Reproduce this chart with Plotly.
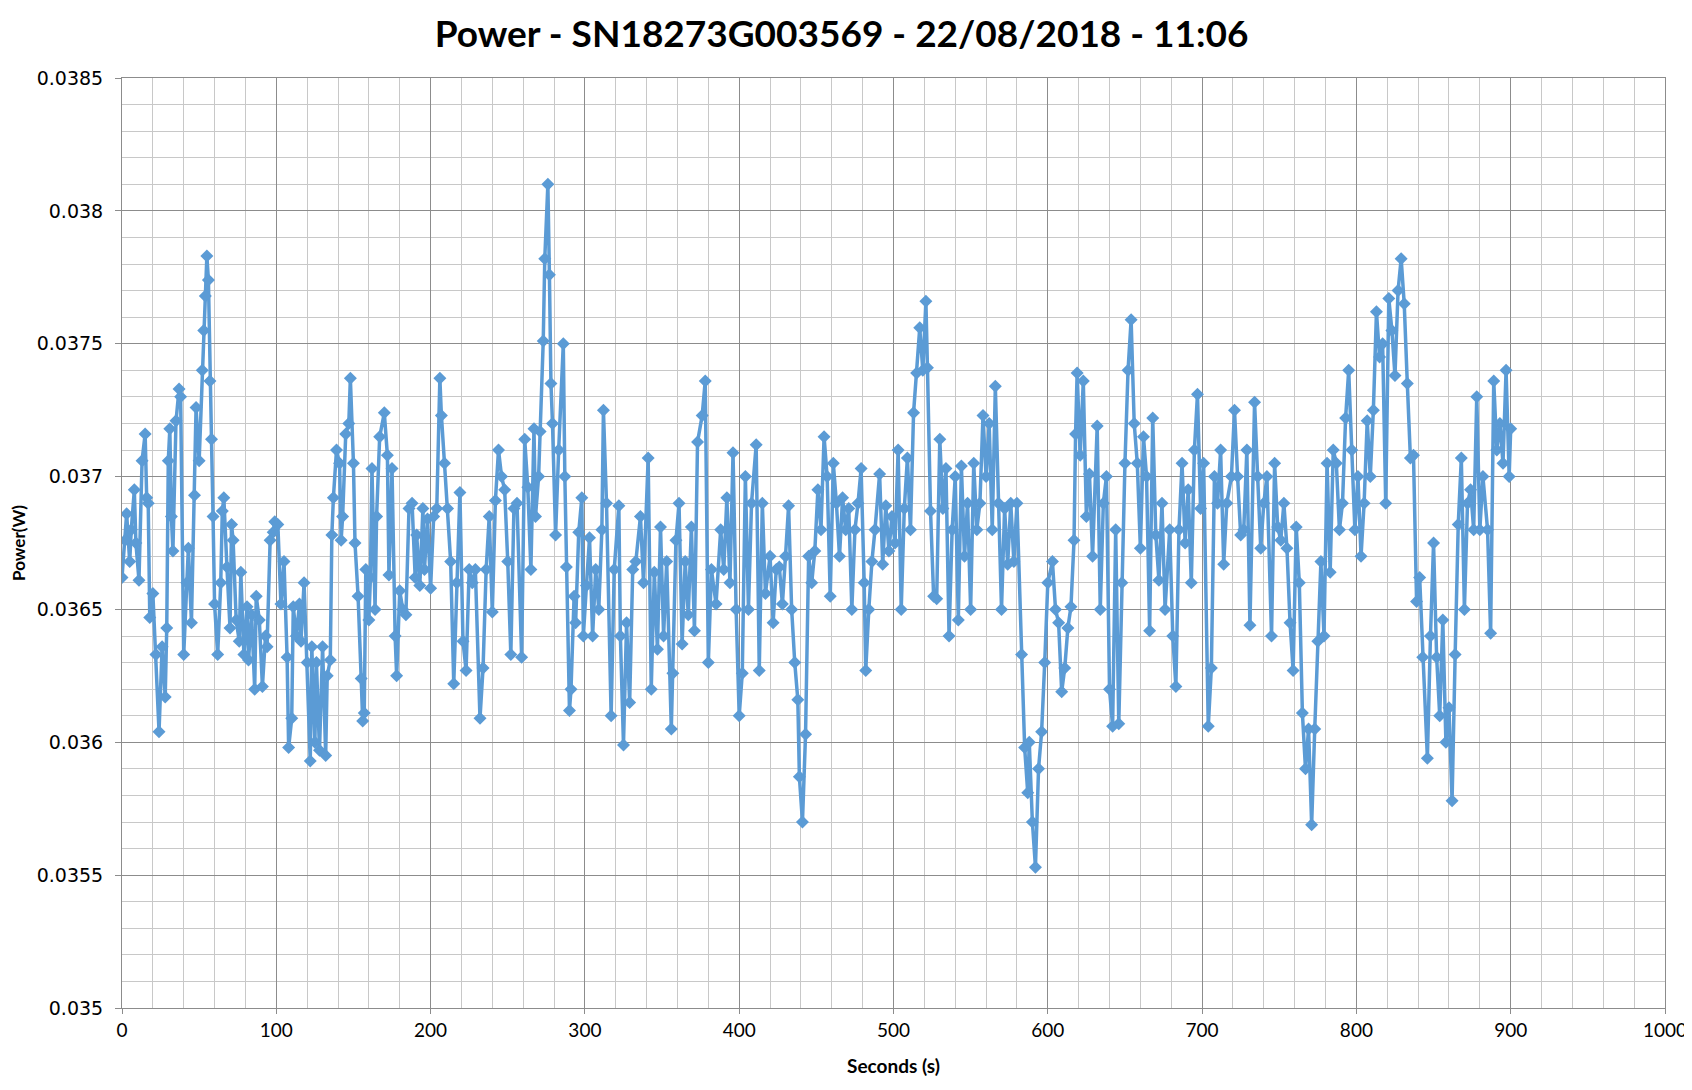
import plotly.graph_objects as go

title_text = "Power - SN18273G003569 - 22/08/2018 - 11:06"
x_title = "Seconds (s)"
y_title = "Power(W)"

seconds = [
    0, 2, 3, 5, 6, 8, 9, 11, 13, 15,
    16, 17, 18, 20, 22, 24, 26, 28, 29, 30,
    31, 32, 33, 35, 37, 38, 40, 42, 43, 45,
    47, 48, 50, 52, 53, 54, 55, 56, 57, 58,
    59, 60, 62, 64, 65, 66, 68, 70, 71, 72,
    74, 76, 77, 79, 81, 82, 84, 86, 87, 89,
    91, 93, 94, 96, 98, 99,
    101, 103, 105, 107, 108, 110, 111, 113, 115, 116,
    118, 120, 122, 123, 125, 126, 128, 130, 132, 133,
    135, 136, 137, 139, 141, 142, 143, 145, 147, 148,
    150, 151, 153, 155, 156, 157, 158, 160, 161, 162,
    164, 165, 167, 170, 172, 173, 175, 177, 178, 180,
    182, 184, 186, 188, 190, 191, 193, 195, 196, 198,
    200, 202, 204, 206, 207, 209, 211, 213, 215, 217,
    219, 221, 223, 225, 227, 229, 232, 234, 236, 238,
    240, 242, 244, 246, 248, 250, 252, 254, 256, 259,
    261, 263, 265, 267, 268, 270, 271, 273, 274, 276,
    277, 278, 279, 281, 283, 286, 287, 288, 290, 291,
    293, 294, 296, 298, 299,
    301, 303, 305, 307, 309, 311, 312, 314, 317, 319,
    322, 323, 325, 327, 329, 331, 333, 336, 338, 341,
    343, 345, 347, 349, 351, 353, 356, 357, 359, 361,
    363, 365, 367, 369, 371, 373, 376, 378, 380, 382,
    385, 388, 390, 392, 394, 396, 398,
    400, 402, 404, 406, 408, 411, 413, 415, 417, 420,
    422, 424, 426, 428, 430, 432, 434, 436, 438, 439,
    441, 443, 445, 447, 449, 451, 453, 455, 457, 459,
    461, 463, 465, 467, 469, 471, 473, 475, 477, 479,
    481, 482, 484, 486, 488, 491, 493, 495, 497, 499,
    501, 503, 505, 507, 509, 511, 513, 515, 517, 519,
    521, 522, 524, 526, 528, 530, 532, 534, 536, 538,
    540, 542, 544, 546, 548, 550, 552, 554, 556, 558,
    560, 562, 564, 566, 568, 570, 572, 574, 576, 578,
    580, 583, 585, 587, 588, 590, 592, 594, 596, 598,
    600, 603, 605, 607, 609, 611, 613, 615, 617, 618,
    619, 621, 623, 625, 627, 629, 632, 634, 636, 638,
    640, 642, 644, 646, 648, 650, 652, 654, 656, 658,
    660, 662, 664, 666, 668, 670, 672, 674, 676, 679,
    681, 683, 685, 687, 689, 691, 693, 695, 697, 699,
    701, 704, 706, 708, 710, 712, 714, 716, 719, 721,
    723, 725, 727, 729, 731, 734, 736, 738, 740, 742,
    745, 747, 749, 751, 753, 755, 757, 759, 761, 763,
    765, 767, 769, 771, 773, 775, 777, 779, 781, 783,
    785, 787, 789, 791, 793, 795, 797, 799,
    801, 803, 805, 807, 809, 811, 813, 815, 817, 819,
    821, 823, 825, 827, 829, 831, 833, 835, 837, 839,
    841, 843, 846, 848, 850, 852, 854, 856, 858, 860,
    862, 864, 866, 868, 870, 872, 874, 876, 878, 880,
    882, 885, 887, 889, 891, 893, 895, 897, 899, 900,
]

# power in units of 1e-5 W
power_e5 = [
    3662, 3676, 3686, 3668, 3680, 3695, 3675, 3661, 3706, 3716,
    3692, 3690, 3647, 3656, 3633, 3604, 3636, 3617, 3643, 3706,
    3718, 3685, 3672, 3721, 3733, 3730, 3633, 3660, 3673, 3645,
    3693, 3726, 3706, 3740, 3755, 3768, 3783, 3774, 3736, 3714,
    3685, 3652, 3633, 3660, 3687, 3692, 3666, 3643, 3682, 3676,
    3646, 3638, 3664, 3633, 3651, 3631, 3648, 3620, 3655, 3646,
    3621, 3640, 3636, 3676, 3679, 3683,
    3682, 3652, 3668, 3632, 3598, 3609, 3651, 3640, 3652, 3638,
    3660, 3630, 3593, 3636, 3600, 3630, 3597, 3636, 3595, 3625,
    3631, 3678, 3692, 3710, 3705, 3676, 3685, 3716, 3720, 3737,
    3705, 3675, 3655, 3624, 3608, 3611, 3665, 3646, 3662, 3703,
    3650, 3685, 3715, 3724, 3708, 3663, 3703, 3640, 3625, 3657,
    3650, 3648, 3688, 3690, 3662, 3678, 3659, 3688, 3665, 3684,
    3658, 3685, 3688, 3737, 3723, 3705, 3688, 3668, 3622, 3660,
    3694, 3638, 3627, 3665, 3660, 3665, 3609, 3628, 3665, 3685,
    3649, 3691, 3710, 3700, 3695, 3668, 3633, 3688, 3690, 3632,
    3714, 3696, 3665, 3718, 3685, 3700, 3717, 3751, 3782, 3810,
    3776, 3735, 3720, 3678, 3710, 3750, 3700, 3666, 3612, 3620,
    3655, 3645, 3679, 3692, 3640,
    3659, 3677, 3640, 3665, 3650, 3680, 3725, 3690, 3610, 3665,
    3689, 3640, 3599, 3645, 3615, 3665, 3668, 3685, 3660, 3707,
    3620, 3664, 3635, 3681, 3640, 3668, 3605, 3626, 3676, 3690,
    3637, 3668, 3648, 3681, 3642, 3713, 3723, 3736, 3630, 3665,
    3652, 3680, 3665, 3692, 3660, 3709, 3650,
    3610, 3626, 3700, 3650, 3690, 3712, 3627, 3690, 3656, 3670,
    3645, 3665, 3666, 3652, 3670, 3689, 3650, 3630, 3616, 3587,
    3570, 3603, 3670, 3660, 3672, 3695, 3680, 3715, 3700, 3655,
    3705, 3690, 3670, 3692, 3680, 3688, 3650, 3680, 3690, 3703,
    3660, 3627, 3650, 3668, 3680, 3701, 3667, 3689, 3672, 3685,
    3675, 3710, 3650, 3688, 3707, 3680, 3724, 3739, 3756, 3740,
    3766, 3741, 3687, 3655, 3654, 3714, 3688, 3703, 3640, 3680,
    3700, 3646, 3704, 3670, 3690, 3650, 3705, 3680, 3690, 3723,
    3700, 3720, 3680, 3734, 3690, 3650, 3688, 3667, 3690, 3668,
    3690, 3633, 3598, 3581, 3600, 3570, 3553, 3590, 3604, 3630,
    3660, 3668, 3650, 3645, 3619, 3628, 3643, 3651, 3676, 3716,
    3739, 3708, 3736, 3685, 3701, 3670, 3719, 3650, 3690, 3700,
    3620, 3606, 3680, 3607, 3660, 3705, 3740, 3759, 3720, 3705,
    3673, 3715, 3700, 3642, 3722, 3678, 3661, 3690, 3650, 3680,
    3640, 3621, 3680, 3705, 3675, 3695, 3660, 3710, 3731, 3688,
    3705, 3606, 3628, 3700, 3690, 3710, 3667, 3690, 3700, 3725,
    3700, 3678, 3680, 3710, 3644, 3728, 3700, 3673, 3690, 3700,
    3640, 3705, 3681, 3676, 3690, 3673, 3645, 3627, 3681, 3660,
    3611, 3590, 3605, 3569, 3605, 3638, 3668, 3640, 3705, 3664,
    3710, 3705, 3680, 3690, 3722, 3740, 3710, 3680,
    3700, 3670, 3690, 3721, 3700, 3725, 3762, 3745, 3750, 3690,
    3767, 3755, 3738, 3770, 3782, 3765, 3735, 3707, 3708, 3653,
    3662, 3632, 3594, 3640, 3675, 3632, 3610, 3646, 3600, 3613,
    3578, 3633, 3682, 3707, 3650, 3690, 3695, 3680, 3730, 3680,
    3700, 3680, 3641, 3736, 3710, 3720, 3705, 3740, 3700, 3718,
]

assert len(seconds) == len(power_e5), (len(seconds), len(power_e5))
power = [v / 100000 for v in power_e5]

x_ticks = [0, 100, 200, 300, 400, 500, 600, 700, 800, 900, 1000]
y_ticks = [0.035, 0.0355, 0.036, 0.0365, 0.037, 0.0375, 0.038, 0.0385]
y_ticklabels = ["0.035", "0.0355", "0.036", "0.0365", "0.037", "0.0375", "0.038", "0.0385"]

line_color = "#5B9BD5"

fig = go.Figure()
fig.add_trace(go.Scatter(
    x=seconds, y=power, mode="lines+markers",
    line=dict(color=line_color, width=3.5),
    marker=dict(symbol="diamond", size=10, color=line_color),
    showlegend=False,
))

# page body has an 8px default margin, so the figure is sized to fit the window
fig.update_layout(
    width=1684, height=1082,
    paper_bgcolor="white", plot_bgcolor="white",
    margin=dict(l=114, r=27, t=70, b=82, autoexpand=False),
    title=dict(text="<b>" + title_text + "</b>", x=0.495, xanchor="center",
               xref="container", yref="container", y=0.976, yanchor="middle",
               font=dict(family="Lato, Open Sans, sans-serif", size=37, color="black")),
    font=dict(family="Lato, Open Sans, sans-serif", color="black"),
)

fig.update_xaxes(
    range=[0, 1000], tickvals=x_ticks,
    showgrid=True, gridcolor="#8c8c8c", gridwidth=1,
    minor=dict(dtick=20, tick0=0, showgrid=True, gridcolor="#c8c8c8", gridwidth=1),
    ticks="outside", ticklen=5, tickcolor="#8c8c8c",
    showline=True, linecolor="#8c8c8c", mirror=True,
    zeroline=False, automargin=False,
    tickfont=dict(size=19, family="Lato, sans-serif"),
    title=dict(text="<b>" + x_title + "</b>", font=dict(size=19), standoff=19),
)
fig.update_yaxes(
    range=[0.035, 0.0385],
    tickvals=y_ticks, ticktext=y_ticklabels,
    showgrid=True, gridcolor="#8c8c8c", gridwidth=1,
    minor=dict(dtick=0.0001, tick0=0.035, showgrid=True, gridcolor="#c8c8c8", gridwidth=1),
    ticks="outside", ticklen=6, tickcolor="#8c8c8c",
    showline=True, linecolor="#8c8c8c", mirror=True,
    zeroline=False, automargin=False,
    ticklabelstandoff=8,
    tickfont=dict(size=19, family="DejaVu Sans, sans-serif"),
    title=dict(text="<b>" + y_title + "</b>", font=dict(size=17), standoff=10),
)

fig.write_html("out.html")
